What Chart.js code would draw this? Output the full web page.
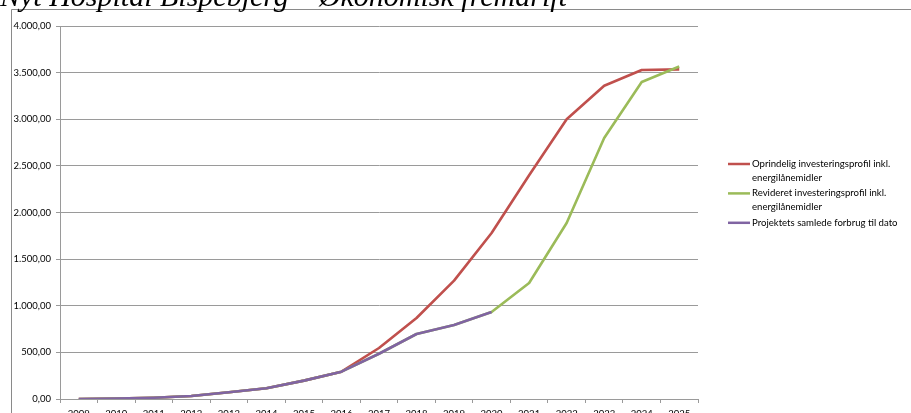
<!DOCTYPE html>
<html>
<head>
<meta charset="utf-8">
<script src="https://cdn.jsdelivr.net/npm/chart.js@4.4.1/dist/chart.umd.min.js"></script>
<style>
  html, body { margin: 0; padding: 0; background: #fff; overflow: hidden; }
  #wrap { position: relative; width: 911px; height: 440px; }
</style>
</head>
<body>
<div id="wrap"><canvas id="c" width="911" height="440"></canvas></div>
<script>
// Budget profile for the new hospital (mio. kr., cumulative)
const chartTitle = 'Nyt Hospital Bispebjerg – Økonomisk fremdrift';
const years = ['2009','2010','2011','2012','2013','2014','2015','2016','2017',
               '2018','2019','2020','2021','2022','2023','2024','2025'];
const originalProfile = [0, 4, 14, 32, 72, 115, 197, 293, 547, 869, 1269, 1780,
                         2400, 3000, 3360, 3528, 3535];
const revisedProfile  = [0, 4, 14, 32, 72, 115, 197, 293, 485, 697, 793, 933,
                         1244, 1887, 2799, 3400, 3565];
const spentToDate     = [0, 4, 14, 32, 72, 115, 197, 293, 485, 697, 793, 933,
                         null, null, null, null, null];
const seriesNames = [
  ['Oprindelig investeringsprofil inkl.', 'energilånemidler'],
  ['Revideret investeringsprofil inkl.', 'energilånemidler'],
  ['Projektets samlede forbrug til dato']
];
const seriesColors = ['#C0504D', '#9BBB59', '#8064A2'];
// drawing order: lower value is painted on top
const seriesOrder = [2, 1, 0];
const yTicks = { min: 0, max: 4000, step: 500 };

const gridGrey = '#9a9a9a';
const uiFont = 'Lato, "Liberation Sans", sans-serif';

function formatDa(v) {
  const fixed = v.toFixed(2).split('.');
  const intPart = fixed[0].replace(/\B(?=(\d{3})+(?!\d))/g, '.');
  return intPart + ',' + fixed[1];
}

// Frame, title and a wrapped legend drawn on the canvas
const decorations = {
  id: 'decorations',
  beforeDraw(chart) {
    const ctx = chart.ctx;
    ctx.save();
    ctx.fillStyle = '#fff';
    ctx.fillRect(0, 0, chart.width, chart.height);
    ctx.strokeStyle = '#8a8a8a';
    ctx.lineWidth = 1;
    ctx.beginPath();
    ctx.moveTo(11.5, chart.height);
    ctx.lineTo(11.5, 9.5);
    ctx.lineTo(chart.width, 9.5);
    ctx.stroke();
    ctx.restore();
  },
  afterDraw(chart) {
    const ctx = chart.ctx;
    ctx.save();
    // legend
    const x0 = 728, x1 = 750, tx = 752;
    const lineH = 13.8, itemGap = 1.8;
    let y = 164;
    chart.data.datasets.forEach((ds, i) => {
      ctx.strokeStyle = ds.borderColor;
      ctx.lineWidth = 2.5;
      ctx.beginPath();
      ctx.moveTo(x0, y);
      ctx.lineTo(x1, y);
      ctx.stroke();
      ctx.fillStyle = '#000';
      ctx.font = '9.6px ' + uiFont;
      ctx.textBaseline = 'middle';
      ctx.textAlign = 'left';
      const lines = seriesNames[i];
      lines.forEach((t, k) => ctx.fillText(t, tx, y + k * lineH));
      y += lines.length * lineH + itemGap;
    });
    // title
    ctx.fillStyle = '#000';
    ctx.font = 'italic 30px "Liberation Serif", "DejaVu Serif", serif';
    ctx.textBaseline = 'alphabetic';
    ctx.textAlign = 'left';
    ctx.fillText(chartTitle, 0, 6);
    ctx.restore();
  }
};

new Chart(document.getElementById('c'), {
  type: 'line',
  data: {
    labels: years,
    datasets: [
      { label: seriesNames[0].join(' '), data: originalProfile, borderColor: seriesColors[0], order: seriesOrder[0] },
      { label: seriesNames[1].join(' '), data: revisedProfile, borderColor: seriesColors[1], order: seriesOrder[1] },
      { label: seriesNames[2].join(' '), data: spentToDate, borderColor: seriesColors[2], order: seriesOrder[2] }
    ].map(d => Object.assign(d, {
      borderWidth: 2.6, pointRadius: 0, pointHoverRadius: 0, tension: 0,
      fill: false, spanGaps: false, borderJoinStyle: 'round', backgroundColor: d.borderColor
    }))
  },
  options: {
    responsive: false,
    devicePixelRatio: 1,
    animation: false,
    events: [],
    layout: { padding: { top: 26, right: 213, bottom: 21, left: 0 } },
    plugins: { legend: { display: false }, tooltip: { enabled: false }, title: { display: false } },
    scales: {
      x: {
        type: 'category',
        offset: true,
        afterFit(s) { s.height = 20; },
        grid: { offset: true, drawOnChartArea: false, drawTicks: true, tickLength: 4, color: gridGrey },
        border: { display: true, color: gridGrey },
        ticks: { color: '#000', font: { family: uiFont, size: 9.5 }, padding: 5, maxRotation: 0, autoSkip: false }
      },
      y: {
        min: yTicks.min, max: yTicks.max,
        afterFit(s) { s.width = 60; },
        grid: { color: gridGrey, tickLength: 4, drawTicks: true },
        border: { display: true, color: gridGrey },
        ticks: {
          stepSize: yTicks.step, color: '#000', padding: 5,
          font: { family: uiFont, size: 9.5 },
          callback: v => formatDa(v)
        }
      }
    }
  },
  plugins: [decorations]
});
</script>
</body>
</html>
